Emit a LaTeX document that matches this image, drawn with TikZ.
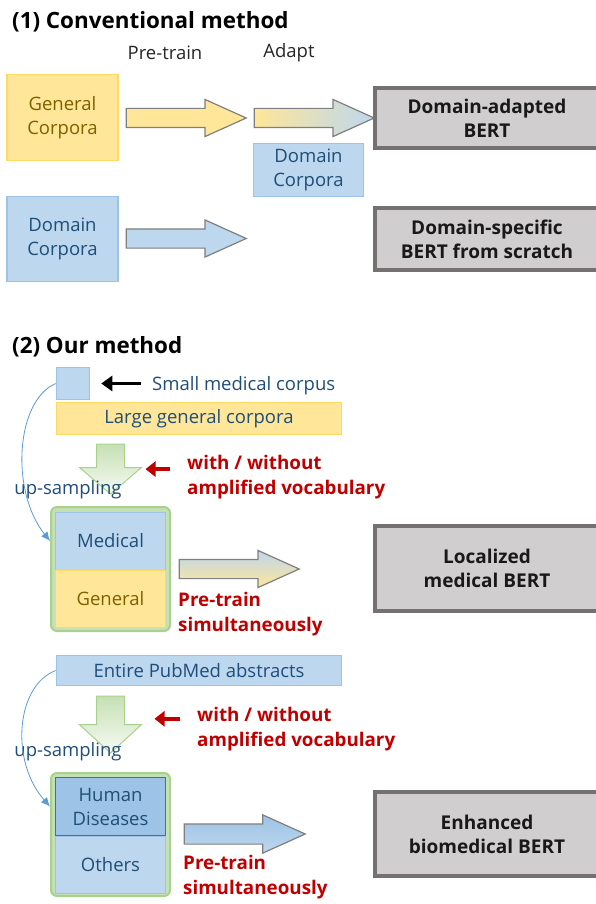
\documentclass[tikz,border=0pt]{standalone}
\usepackage{fontspec}
\setmainfont{Open Sans}
\usetikzlibrary{shapes.arrows, arrows.meta, calc}

\definecolor{boxyellow}{HTML}{FFE699}
\definecolor{lineyellow}{HTML}{FFD966}
\definecolor{boxblue}{HTML}{BDD7EE}
\definecolor{lineblue}{HTML}{9DC3E6}
\definecolor{deepblue}{HTML}{2E75B6}
\definecolor{textblue}{HTML}{1F4E79}
\definecolor{textbrown}{HTML}{7F6000}
\definecolor{bertgray}{HTML}{D0CECE}
\definecolor{bertline}{HTML}{767171}
\definecolor{arrowgray}{HTML}{7F7F7F}
\definecolor{greenfill}{HTML}{C5E0B4}
\definecolor{greenline}{HTML}{A9D18E}
\definecolor{darkred}{HTML}{C00000}
\definecolor{curveblue}{HTML}{5B9BD5}

\begin{document}
\begin{tikzpicture}[
    % GLOBAL CFG
    x=1pt, y=-1pt,
    font=\fontsize{18.5}{24}\selectfont,
    >=Latex,
    % Styles
    title/.style={% section headings
        anchor=west,
        inner sep=0pt,
        font=\fontsize{22.4}{26}\selectfont\bfseries,
        },
    phase/.style={% Pre-train / Adapt above the arrows
        inner sep=0pt,
        text=black!85,
        },
    bluecorp/.style={% blue corpora boxes
        rectangle,
        draw=lineblue,
        line width=1.5pt,
        fill=boxblue,
        text=textblue,
        align=center,
        inner sep=0pt,
        },
    yellowcorp/.style={% yellow corpora boxes
        rectangle,
        draw=lineyellow,
        line width=1.5pt,
        fill=boxyellow,
        text=textbrown,
        align=center,
        inner sep=0pt,
        },
    bert/.style={% resulting models
        rectangle,
        draw=bertline,
        line width=3.5pt,
        fill=bertgray,
        text=black!90,
        align=center,
        minimum width=224pt,
        font=\fontsize{19}{24}\selectfont\bfseries,
        },
    bigarrow/.style={% fat block arrows, placed by their tail
        single arrow,
        anchor=tail,
        draw=arrowgray,
        line width=1.2pt,
        inner xsep=0pt,
        inner ysep=9pt,
        minimum height=120pt,
        single arrow head extend=9pt,
        single arrow tip angle=48.5,
        },
    downarrow/.style={% green arrows pointing down
        single arrow,
        shape border rotate=270,
        anchor=tail,
        draw=greenline,
        line width=1pt,
        inner xsep=13.5pt,
        inner ysep=13.5pt,
        single arrow head extend=17pt,
        top color=greenfill,
        middle color=greenfill,
        bottom color=greenfill!15,
        },
    mixbox/.style={% green container
        rectangle,
        rounded corners=6pt,
        draw=greenline,
        line width=2pt,
        fill=greenfill,
        minimum width=119pt,
        },
    note/.style={% red remarks
        anchor=west,
        inner sep=0pt,
        align=left,
        text=darkred,
        font=\fontsize{18.8}{25}\selectfont\bfseries,
        },
    plain/.style={% blue remarks
        inner sep=0pt,
        text=textblue,
        },
    blackptr/.style={%
        line width=3.5pt,
        -{Triangle[length=11pt,width=15pt]},
        },
    redptr/.style={%
        draw=darkred,
        line width=4.5pt,
        -{Triangle[length=10pt,width=15pt]},
        },
    upsample/.style={% thin curve
        draw=curveblue,
        line width=0.8pt,
        -{Latex[length=9pt,width=8pt]},
        }
    ]
\useasboundingbox (0,0) rectangle (595,904);

%(1) conventional
    \node[title] (t1) at (12,22) {(1) Conventional method};
    \node[phase] (pre) at (165,53) {Pre-train};
    \node[phase] (adapt) at (289,53) {Adapt};

    \node[yellowcorp, minimum width=111pt, minimum height=86pt] (gen) at (62.5,117.5) {General\\Corpora};
    \node[bigarrow, fill=boxyellow] (arr1) at (125.6,118) {};
    \node[bigarrow, left color=boxyellow, right color=boxblue] (arr2) at (253.6,118) {};
    \node[bluecorp, minimum width=110pt, minimum height=53pt] (dom1) at (308.5,170) {Domain\\Corpora};
    \node[bert, minimum height=60pt] (bert1) at (487,118) {Domain-adapted\\BERT};

    \node[bluecorp, minimum width=111pt, minimum height=85pt] (dom2) at (62.5,239) {Domain\\Corpora};
    \node[bigarrow, fill=boxblue] (arr3) at (125.6,238.5) {};
    \node[bert, minimum height=62pt] (bert2) at (487,239) {Domain-specific\\BERT from scratch};

%(2) our method, medical
    \node[title] (t2) at (12,347) {(2) Our method};
    \node[bluecorp, minimum width=33pt, minimum height=32pt] (small) at (73,383.5) {};
    \node[plain, anchor=west] (smalltxt) at (152,386) {Small medical corpus};
    \node[bluecorp, draw=lineyellow, fill=boxyellow, minimum width=285pt, minimum height=32pt] (large) at (199,418.5) {Large general corpora};
    \draw[blackptr, shorten <=11pt, shorten >=11pt] (smalltxt.west |- small.east) -- (small.east);

    \node[downarrow, minimum height=50pt, single arrow tip angle=99] (down1) at (110.5,443.5) {};
    \coordinate (mid1) at ($(down1.tail)!0.5!(down1.tip)$);
    \node[note] (note1) at (187,477) {with / without\\amplified vocabulary};
    \draw[redptr, shorten <=17pt, shorten >=35pt] (note1.west |- mid1) -- (mid1);
    \node[plain] (up1) at (68,490) {up-sampling};

    \node[mixbox, minimum height=124pt] (mix1) at (110.5,569) {};
    \node[bluecorp, line width=1pt, minimum width=110pt, minimum height=58pt] (med) at (110.5,541) {Medical};
    \node[yellowcorp, line width=1pt, minimum width=110pt, minimum height=57pt] (gen2) at (110.5,598.5) {General};
    \draw[upsample] (small.west) .. controls +(-40,17) and +(-40,-50) .. (mix1.west |- med);

    \node[bigarrow, top color=boxblue, bottom color=boxyellow] (arr4) at (178.6,569) {};
    \node[note] (pt1) at (178,614) {Pre-train\\simultaneously};
    \node[bert, minimum height=85pt] (bert3) at (487,568.5) {Localized\\medical BERT};

%(2) our method, biomedical
    \node[bluecorp, minimum width=285pt, minimum height=30pt] (pubmed) at (199,670.5) {Entire PubMed abstracts};

    \node[downarrow, minimum height=57pt, single arrow tip angle=95] (down2) at (110.5,695.5) {};
    \coordinate (mid2) at ($(down2.tail)!0.4!(down2.tip)$);
    \node[note] (note2) at (197,729) {with / without\\amplified vocabulary};
    \draw[redptr, shorten <=17pt, shorten >=44pt] (note2.west |- mid2) -- (mid2);
    \node[plain] (up2) at (68,752) {up-sampling};

    \node[mixbox, minimum height=123pt] (mix2) at (110.5,834.5) {};
    \node[bluecorp, draw=deepblue, fill=lineblue, line width=1.2pt, minimum width=110pt, minimum height=58pt] (hd) at (110.5,806.5) {Human\\Diseases};
    \node[bluecorp, line width=1pt, minimum width=110pt, minimum height=57pt] (oth) at (110.5,864.5) {Others};
    \draw[upsample] (pubmed.west) .. controls +(-40,15) and +(-40,-45) .. (mix2.west |- hd);

    \node[bigarrow, top color=lineblue, bottom color=boxblue, inner ysep=9.5pt, minimum height=121pt] (arr5) at (183.6,834) {};
    \node[note] (pt2) at (183,877.5) {Pre-train\\simultaneously};
    \node[bert, minimum height=84pt] (bert4) at (487,834) {Enhanced\\biomedical BERT};

\end{tikzpicture}
\end{document}
